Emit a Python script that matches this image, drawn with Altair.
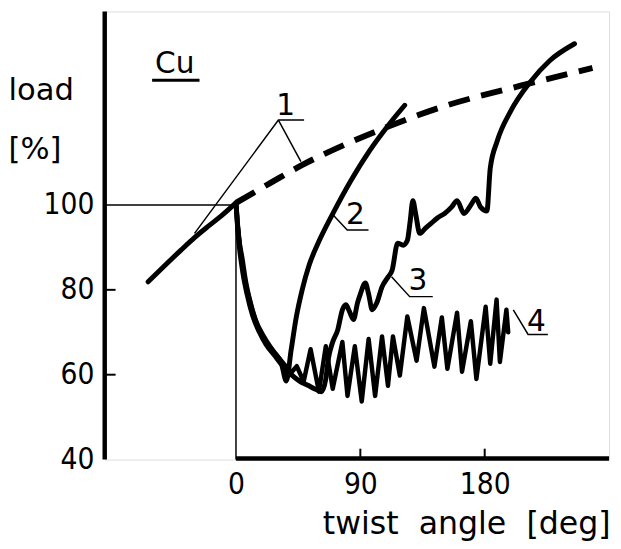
import altair as alt
import pandas as pd

# ---- data ----
pre_x = [-63.6, -50, -40, -30, -20, -10, 0]
pre_y = [81.9, 86.2, 89.3, 92.3, 95.0, 97.6, 100.5]

dash_x = [0, 25, 48.4, 78, 108, 150, 206, 258]
dash_y = [100.5, 105.2, 109.5, 114.1, 118.2, 123.2, 128.1, 132.3]

c2_x = [0, 1, 2.5, 4.3, 7, 10, 14, 20, 27, 33, 36.4, 40, 43.6, 47.9, 52.9, 59.3, 70, 82.9, 97.1, 109.3, 122.1]
c2_y = [100.5, 96, 91, 87.7, 82, 77.5, 73, 69, 65.5, 62.5, 58.5, 66.0, 73.5, 80.0, 85.8, 90.9, 97.9, 105.6, 113.0, 118.4, 123.5]

c3_x = [0, 1, 2.5, 5, 8, 12, 17, 22, 28, 34, 40, 46, 52, 58, 62, 65, 67, 70, 73.6, 77,
        79.5, 82, 85, 88, 90, 93.6, 96, 98.6, 102, 105.7, 110, 113, 117, 121, 124, 126, 128, 130, 133, 137,
        141, 146, 151, 156, 160, 165, 170, 173.6, 177, 181.6, 184, 189, 198.6, 213, 227, 245]
c3_y = [100.5, 95.5, 90, 84, 79, 74, 70, 67, 64.5, 62, 60, 58.5, 57.5, 56.5, 56, 59, 64, 67.7, 70.5, 75.3,
        76.5, 75, 73, 77, 79, 81.6, 79, 75.3, 77, 80.7, 83, 84.6, 91, 90.5, 91.6, 96, 101, 98, 93.3, 94.5,
        95.6, 97, 98, 99.5, 101, 98, 100, 101.6, 99.5, 98.6, 108.6, 115, 122, 129, 134, 138]

c4_x = [0, 1, 3, 5, 8, 12, 16, 21, 26, 31, 36, 40, 44, 49, 54, 60, 65, 70, 77, 80.7,
        86, 91, 96, 100.7, 105.7, 110, 113.6, 118.6, 124, 130.7, 136, 143.6, 149, 153, 160, 163.6, 170, 174, 180.7, 184,
        188.6, 191, 195.7, 197]
c4_y = [100.5, 96, 90, 85, 80, 75, 71, 68, 66, 64, 62, 60.5, 62, 58.4, 66, 56, 66.7, 56.7, 67.7, 55,
        66.7, 53.7, 68.4, 55, 69, 57.4, 69, 59.8, 73.7, 63.3, 75.7, 61.9, 73.5, 61.4, 74.6, 60.7, 72.6, 59, 76, 62.6,
        77.7, 63, 75.3, 70]

leader_ids = ["1a", "1a", "1a", "1b", "1b", "2", "2", "2", "3", "3", "3", "4", "4", "4"]
leader_x = [-30, 30.7, 49.3, 30.7, 47, 69.8, 80.5, 95.9, 112.6, 125.7, 142.4, 200.7, 211.4, 225.7]
leader_y = [93.3, 120, 120, 120, 110.2, 97.8, 94.1, 94.1, 83.1, 78.4, 78.4, 75.3, 69.5, 69.5]

label_text = ["1", "2", "3", "4", "Cu"]
label_x = [36, 86.4, 131.7, 217.4, -44.3]
label_y = [121.2, 95.5, 80, 70.3, 131.2]

cu_line_x = [-60.7]
cu_line_x2 = [-26.4]
cu_line_y = [129.4]

x_ticks = [0, 90, 180]
y_ticks = [40, 60, 80, 100]
x_inner_ticks = [90, 180]
y_inner_ticks = [60, 80]

guide_x = [-95, 0]
guide_x2 = [0, 0]
guide_y = [100, 40]
guide_y2 = [100, 100]

X_MIN, X_MAX = -95, 270
Y_MIN, Y_MAX = 40, 145.6

W, H = 511, 454
FONT = "DejaVu Sans"
TFONT = "DejaVu Sans Condensed"

# ---- build tables ----
def series(name, xs, ys):
    return pd.DataFrame({"x": xs, "y": ys, "s": name, "i": range(len(xs))})

smooth_df = pd.concat([
    series("pre", pre_x, pre_y),
    series("c2", c2_x, c2_y),
    series("c3", c3_x, c3_y),
])
zig_df = series("c4", c4_x, c4_y)
dash_df = series("c1", dash_x, dash_y)
lead_df = pd.DataFrame({"x": leader_x, "y": leader_y, "s": leader_ids, "i": range(len(leader_x))})
lab_df = pd.DataFrame({"x": label_x, "y": label_y, "t": label_text})
cu_df = pd.DataFrame({"x": cu_line_x, "x2": cu_line_x2, "y": cu_line_y})
guide_df = pd.DataFrame({"x": guide_x, "x2": guide_x2, "y": guide_y, "y2": guide_y2})

xs = alt.Scale(domain=[X_MIN, X_MAX], nice=False, zero=False)
ys = alt.Scale(domain=[Y_MIN, Y_MAX], nice=False, zero=False)

xaxis = alt.Axis(values=x_ticks, format="d", domain=False, ticks=False, tickSize=0, grid=False,
                 labelFont=TFONT, labelFontSize=30, labelColor="black", labelPadding=10,
                 title="twist\u00a0\u00a0angle\u00a0\u00a0[deg]", titleFont=FONT, titleFontSize=32,
                 titleFontWeight="normal", titleColor="black", titleAngle=0, titleAlign="right",
                 titleBaseline="alphabetic", titleX=W + 1, titleY=75)
yaxis = alt.Axis(values=y_ticks, format="d", domain=False, ticks=False, tickSize=0, grid=False,
                 labelFont=TFONT, labelFontSize=30, labelColor="black", labelPadding=11,
                 title=["load", "[%]"], titleFont=FONT, titleFontSize=31, titleFontWeight="normal",
                 titleColor="black", titleAngle=0, titleAlign="left", titleBaseline="alphabetic",
                 titleX=-98, titleY=89, titleLineHeight=60)

X = alt.X("x:Q", scale=xs, axis=xaxis)
Y = alt.Y("y:Q", scale=ys, axis=yaxis)

guides = alt.Chart(guide_df).mark_rule(color="black", strokeWidth=1.5).encode(
    x=X, x2="x2:Q", y=Y, y2="y2:Q")

left_axis = alt.Chart(pd.DataFrame({"x": [X_MIN]})).mark_rule(color="black", strokeWidth=4.5).encode(
    x=X, y=alt.value(0), y2=alt.value(H))
bottom_axis = alt.Chart(pd.DataFrame({"x": [0]})).mark_rule(color="black", strokeWidth=4.5).encode(
    x=X, x2=alt.value(W), y=alt.value(H - 1))

yt = alt.Chart(pd.DataFrame({"y": y_inner_ticks})).mark_rule(color="black", strokeWidth=2).encode(
    y=Y, x=alt.value(0), x2=alt.value(11))
xt = alt.Chart(pd.DataFrame({"x": x_inner_ticks})).mark_rule(color="black", strokeWidth=2).encode(
    x=X, y=alt.value(H), y2=alt.value(H - 11))

smooth = alt.Chart(smooth_df).mark_line(color="black", strokeWidth=5, interpolate="monotone",
                                        strokeCap="round", strokeJoin="round").encode(
    x=X, y=Y, detail="s:N", order="i:Q")
zig = alt.Chart(zig_df).mark_line(color="black", strokeWidth=4.5, interpolate="linear",
                                  strokeCap="round", strokeJoin="round").encode(
    x=X, y=Y, detail="s:N", order="i:Q")
dashed = alt.Chart(dash_df).mark_line(color="black", strokeWidth=6, interpolate="monotone",
                                      strokeDash=[22, 12]).encode(
    x=X, y=Y, detail="s:N", order="i:Q")
leaders = alt.Chart(lead_df).mark_line(color="black", strokeWidth=1.5).encode(
    x=X, y=Y, detail="s:N", order="i:Q")
labels = alt.Chart(lab_df).mark_text(font=FONT, fontSize=30, color="black", align="center",
                                     baseline="alphabetic").encode(x=X, y=Y, text="t:N")
cu_line = alt.Chart(cu_df).mark_rule(color="black", strokeWidth=3).encode(x=X, x2="x2:Q", y=Y)

chart = alt.layer(
    guides, left_axis, bottom_axis, yt, xt, dashed, smooth, zig, leaders, labels, cu_line
).properties(
    width=W, height=H,
    autosize=alt.AutoSizeParams(type="none"),
    padding={"left": 98, "top": 0, "right": 4, "bottom": 80},
).configure_view(stroke="black", strokeWidth=2).configure(background="white")

chart.save("out.html", embed_options={"renderer": "svg", "actions": False})
